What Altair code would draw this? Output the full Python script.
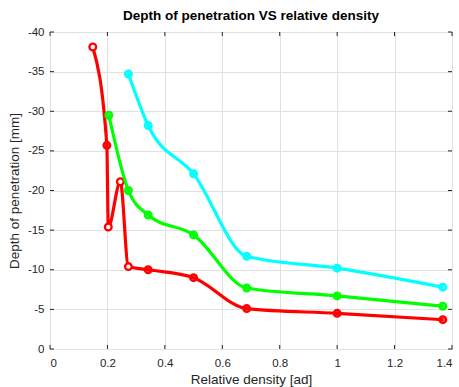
import altair as alt
import pandas as pd

title_text = "Depth of penetration VS relative density"
x_title = "Relative density [ad]"
y_title = "Depth of penetration [mm]"

x_ticks = [0, 0.2, 0.4, 0.6, 0.8, 1, 1.2, 1.4]
y_ticks = [-40, -35, -30, -25, -20, -15, -10, -5, 0]

cyan_x = [0.273, 0.342, 0.5, 0.685, 1.0, 1.368]
cyan_y = [-34.7, -28.2, -22.1, -11.7, -10.2, -7.8]
cyan_open = [False, False, False, False, False, False]

green_x = [0.205, 0.273, 0.342, 0.5, 0.685, 1.0, 1.368]
green_y = [-29.5, -20.0, -16.9, -14.4, -7.7, -6.7, -5.4]
green_open = [False, False, False, False, False, False, False]

red_x = [0.149, 0.198, 0.203, 0.245, 0.273, 0.342, 0.5, 0.685, 1.0, 1.368]
red_y = [-38.1, -25.7, -15.4, -21.1, -10.4, -10.0, -9.0, -5.1, -4.5, -3.7]
red_open = [True, False, True, True, True, False, False, False, False, False]

series = [
    ("red", "#ff0000", red_x, red_y, red_open),
    ("green", "#00ff00", green_x, green_y, green_open),
    ("cyan", "#00ffff", cyan_x, cyan_y, cyan_open),
]

W, H = 402, 317
FONT = "Liberation Sans"
AX = "#262626"

xscale = alt.Scale(domain=[0, 1.4], nice=False, zero=False)
yscale = alt.Scale(domain=[-40, 0], reverse=True, nice=False, zero=False)

x_axis = alt.Axis(values=x_ticks, labelExpr="'' + datum.value", title=x_title,
                  grid=True, ticks=False, domain=False, labelPadding=8,
                  titlePadding=4)
y_axis = alt.Axis(values=y_ticks, labelExpr="'' + datum.value", title=y_title,
                  grid=True, ticks=False, domain=False, labelPadding=6,
                  titlePadding=6)

def X(field):
    return alt.X(field, scale=xscale, axis=x_axis)

def Y(field):
    return alt.Y(field, scale=yscale, axis=y_axis)

layers = []
for name, color, xs, ys, opens in series:
    df = pd.DataFrame({"x": xs, "y": ys, "open": opens, "order": list(range(len(xs)))})
    base = alt.Chart(df)
    line = base.mark_line(color=color, strokeWidth=3.2, interpolate="monotone").encode(
        x=X("x:Q"), y=Y("y:Q"), order="order:Q")
    filled = base.transform_filter("!datum.open").mark_point(
        shape="circle", filled=True, fill=color, fillOpacity=0.7, stroke=color,
        strokeWidth=2.3, size=45, opacity=1).encode(x=X("x:Q"), y=Y("y:Q"))
    hollow = base.transform_filter("datum.open").mark_point(
        shape="circle", filled=True, fill="white", fillOpacity=1, stroke=color,
        strokeWidth=2.3, size=45, opacity=1).encode(x=X("x:Q"), y=Y("y:Q"))
    layers += [line, filled, hollow]

xt = pd.DataFrame({"x": x_ticks})
yt = pd.DataFrame({"y": y_ticks})
TL = 4
tick_layers = [
    alt.Chart(xt).mark_rule(color=AX, strokeWidth=1).encode(
        x=X("x:Q"), y=alt.value(H), y2=alt.value(H - TL)),
    alt.Chart(xt).mark_rule(color=AX, strokeWidth=1).encode(
        x=X("x:Q"), y=alt.value(0), y2=alt.value(TL)),
    alt.Chart(yt).mark_rule(color=AX, strokeWidth=1).encode(
        y=Y("y:Q"), x=alt.value(0), x2=alt.value(TL)),
    alt.Chart(yt).mark_rule(color=AX, strokeWidth=1).encode(
        y=Y("y:Q"), x=alt.value(W), x2=alt.value(W - TL)),
]

chart = alt.layer(*layers, *tick_layers).properties(
    width=W, height=H,
    background="white",
    title=alt.TitleParams(title_text, fontSize=13.5, fontWeight="bold", font=FONT,
                          color="black", offset=4, anchor="middle"),
    padding={"left": 50, "top": 32, "right": 7, "bottom": 38},
    autosize=alt.AutoSizeParams(type="none"),
).configure_view(
    stroke=AX, strokeWidth=1
).configure_axis(
    labelFont=FONT, labelFontSize=11.5, labelColor=AX,
    titleFont=FONT, titleFontSize=13.5, titleColor=AX, titleFontWeight="normal",
    gridColor="#e0e0e0", gridWidth=1,
)

chart.save("out.html", embed_options={"renderer": "svg", "actions": False})
